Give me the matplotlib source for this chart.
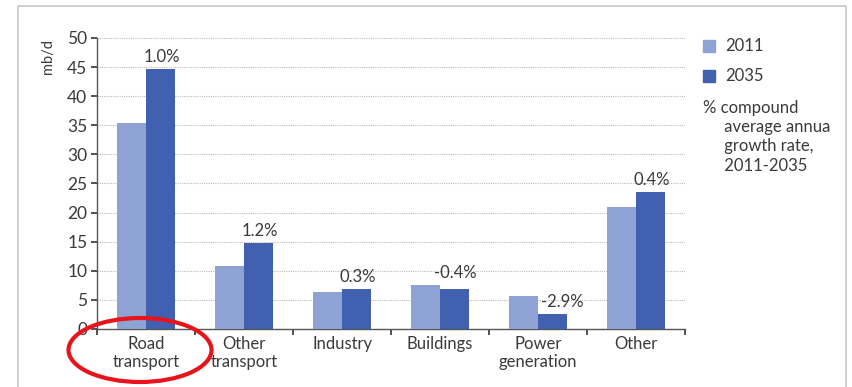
import matplotlib.pyplot as plt
import numpy as np
from matplotlib.patches import Ellipse, Rectangle

categories = ['Road\ntransport', 'Other\ntransport', 'Industry', 'Buildings', 'Power\ngeneration', 'Other']
v2011 = [35.3, 10.9, 6.4, 7.6, 5.6, 21.0]
v2035 = [44.7, 14.7, 6.9, 6.9, 2.5, 23.5]
rates = ['1.0%', '1.2%', '0.3%', '-0.4%', '-2.9%', '0.4%']

c2011 = '#8EA2D4'
c2035 = '#4160B0'
txt = '#3a3a3a'
plt.rcParams['font.family'] = ['Lato', 'DejaVu Sans']

fig = plt.figure(figsize=(8.52, 3.87), dpi=100)
ax = fig.add_axes([0.114, 0.150, 0.690, 0.752])

x = np.arange(len(categories))
w = 0.295
ax.bar(x - w/2, v2011, w, color=c2011, zorder=3)
ax.bar(x + w/2, v2035, w, color=c2035, zorder=3)

for i, r in enumerate(rates):
    base = v2035[i] if i == 4 else max(v2011[i], v2035[i])
    xo = 0.1 if i == 4 else 0.01
    ax.text(x[i] + w/2 + xo, base + 0.7, r, ha='center', va='bottom',
            fontsize=12, color=txt, zorder=4)

ax.set_xlim(-0.5, len(categories) - 0.5)
ax.set_ylim(0, 50)
ax.set_yticks(np.arange(0, 51, 5))
ax.yaxis.grid(True, linestyle=(0, (1, 1)), color='#bbbbbb', linewidth=0.8, zorder=0)
ax.set_xticks(x)
ax.set_xticklabels(categories, fontsize=12, color=txt, linespacing=1.2)
ax.set_xticks(np.arange(-0.5, len(categories), 1), minor=True)
ax.tick_params(axis='x', which='major', length=0, pad=5)
ax.tick_params(axis='x', which='minor', length=4, width=1.2, color='#333333')
ax.tick_params(axis='y', length=4, width=1.2, color='#333333', labelsize=12.5,
               labelcolor=txt, pad=3)
for s in ['top', 'right']:
    ax.spines[s].set_visible(False)
for s in ['left', 'bottom']:
    ax.spines[s].set_color('#555555')
    ax.spines[s].set_linewidth(1.0)
ax.set_ylabel('mb/d', fontsize=10.5, color=txt)
ax.yaxis.set_label_coords(-0.072, 0.935)

# legend
fig.patches.append(Rectangle((703/852, 1 - 52/387), 12/852, 12/387,
                             transform=fig.transFigure, color=c2011))
fig.patches.append(Rectangle((703/852, 1 - 82/387), 12/852, 12/387,
                             transform=fig.transFigure, color=c2035))
fig.text(725/852, 1 - 46/387, '2011', fontsize=12, color=txt, va='center')
fig.text(725/852, 1 - 76/387, '2035', fontsize=12, color=txt, va='center')
fig.text(703/852, 1 - 100/387, '% compound\n     average annua\n     growth rate,\n     2011-2035',
         fontsize=12, color=txt, va='top', linespacing=1.25)

# frame
fig.patches.append(Rectangle((18/852, -0.05), 828/852, 1.05 - 6/387, transform=fig.transFigure,
                             fill=False, edgecolor='#c8c8c8', linewidth=1.2))

# red ellipse around Road transport
fig.patches.append(Ellipse((140/852, 1 - 350/387), 143/852, 64/387, transform=fig.transFigure,
                           fill=False, edgecolor='#e8141b', linewidth=3))

fig.savefig('out.png', dpi=100)
